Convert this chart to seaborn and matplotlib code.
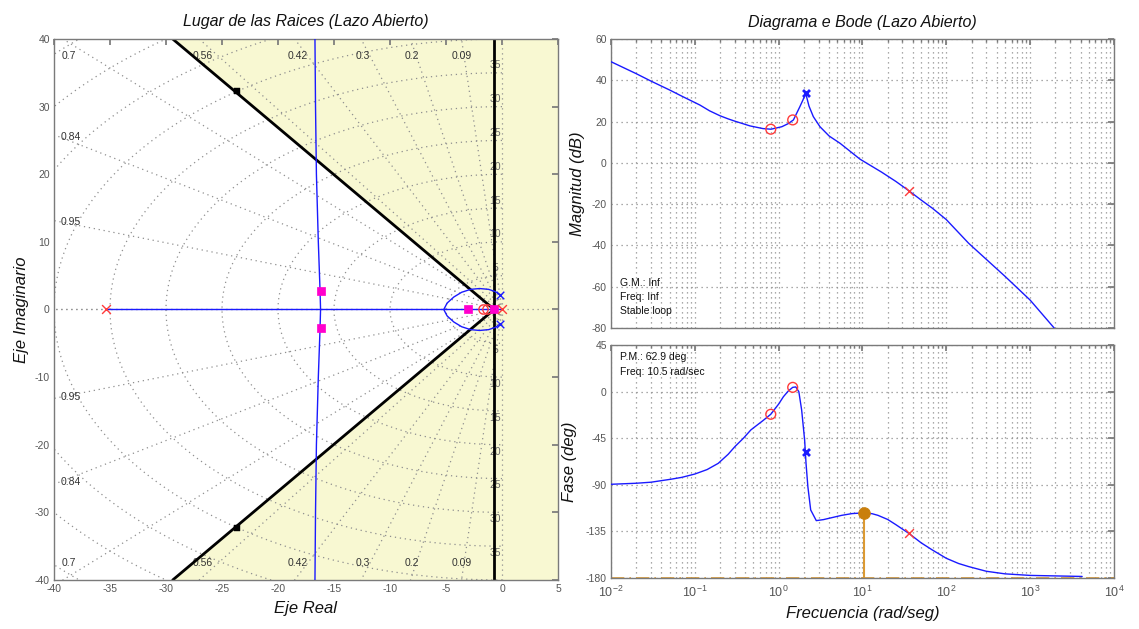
import numpy as np
import matplotlib
matplotlib.use("Agg")
import matplotlib.pyplot as plt
import seaborn as sns
from matplotlib.ticker import LogLocator, NullFormatter, MultipleLocator

sns.set_theme(style="white")
plt.rcParams["font.family"] = ["Liberation Sans", "DejaVu Sans"]
plt.rcParams["axes.unicode_minus"] = False

# ---------------- Root locus: grid values ----------------
damping_ratios = [0.09, 0.2, 0.3, 0.42, 0.56, 0.7, 0.84, 0.95]
natural_freqs = [5, 10, 15, 20, 25, 30, 35, 40, 45, 50, 55]
natural_freq_labels = [5, 10, 15, 20, 25, 30, 35]

# open-loop poles / zeros
plant_poles_re = [-35.4, 0.0]
plant_poles_im = [0.0, 0.0]
comp_poles_re = [-0.15, -0.15]
comp_poles_im = [2.1, -2.1]
zeros_re = [-1.65, -1.3]
zeros_im = [0.0, 0.0]
# closed-loop poles for the current gain
cl_poles_re = [-16.2, -16.2, -3.0, -0.67]
cl_poles_im = [2.75, -2.75, 0.0, 0.0]

# locus branches
real_branch_re = [-35.4, 0.0]
real_branch_im = [0.0, 0.0]
asym_branch_re = [-16.7, -16.65, -16.57, -16.4, -16.25, -16.2, -16.25, -16.4, -16.57, -16.65, -16.7]
asym_branch_im = [40, 30, 20, 10, 3, 0, -3, -10, -20, -30, -40]
loop_branch_re = [-0.15, -0.6, -1.2, -2.0, -2.8, -3.6, -4.3, -4.9, -5.2,
                  -4.9, -4.3, -3.6, -2.8, -2.0, -1.2, -0.6, -0.15]
loop_branch_im = [2.1, 2.65, 2.98, 3.1, 2.98, 2.55, 1.85, 0.95, 0.0,
                  -0.95, -1.85, -2.55, -2.98, -3.1, -2.98, -2.65, -2.1]

# design constraints (damping wedge + settling time)
wedge_re = [-29.4, -0.7, -29.4]
wedge_im = [40.0, 0.0, -40.0]
settling_re = -0.7
wedge_marks_re = [-23.7, -23.7]
wedge_marks_im = [32.3, -32.3]

# ---------------- Bode data ----------------
mag_w = [0.01, 0.02, 0.03, 0.05, 0.07, 0.115, 0.15, 0.2, 0.25, 0.3, 0.38, 0.455,
         0.65, 0.81, 1.09, 1.30, 1.50, 1.79, 1.95, 2.10, 2.30, 2.59, 3.11, 4.0,
         5.39, 9.33, 16.9, 25.0, 35.7, 50.0, 68.3, 100, 185, 502, 1000, 1933, 4170]
mag_db = [49.0, 43.2, 39.6, 35.3, 32.3, 28.0, 25.2, 22.8, 21.3, 20.2, 18.9, 17.9,
          16.6, 16.3, 17.5, 19.0, 20.8, 27.2, 30.5, 33.7, 27.5, 22.4, 17.5, 13.0,
          9.5, 1.8, -4.5, -9.0, -13.5, -18.0, -22.0, -27.5, -39.0, -55.0, -66.5,
          -80.0, -93.4]

phase_w = [0.01, 0.02, 0.03, 0.052, 0.07, 0.1, 0.14, 0.19, 0.25, 0.3, 0.38, 0.466,
           0.55, 0.65, 0.805, 1.0, 1.14, 1.3, 1.47, 1.6, 1.74, 1.88, 2.04, 2.12,
           2.23, 2.41, 2.81, 3.43, 5.64, 7.5, 10.5, 13.0, 15.3, 20.0, 25.0, 35.7,
           50.0, 68.3, 100, 140, 185, 300, 502, 1000, 4170]
phase_deg = [-89.5, -88.5, -87.5, -84.6, -82.8, -79.6, -75.3, -69.3, -60.5, -53.2,
             -45.0, -37.0, -32.5, -28.0, -21.9, -12.0, -4.9, 0.5, 4.1, 4.5, -0.1,
             -17.8, -46.7, -69.3, -91.8, -114.3, -124.6, -123.6, -119.5, -117.8,
             -117.1, -117.9, -119.5, -123.5, -128.5, -136.9, -146.0, -153.0, -161.0,
             -166.0, -169.0, -173.5, -176.0, -177.5, -178.5]

zero_w = [0.805, 1.47]
zero_mag = [16.3, 20.8]
zero_phase = [-21.9, 4.1]
comp_pole_w = [2.09]
comp_pole_mag = [33.7]
comp_pole_phase = [-58.0]
plant_pole_w = [35.7]
plant_pole_mag = [-13.5]
plant_pole_phase = [-136.9]

gain_margin = "Inf"
gain_margin_freq = "Inf"
phase_margin = 62.9
phase_margin_freq = 10.5

# ---------------- styling ----------------
GRID_C = "#8f8f8f"
GRID_LS = (0, (1, 3))
SPINE_C = "#7a7a7a"
TICK_C = "#555555"
YELLOW = "#F8F8D2"
BLUE = "#1a1aff"
RED = "#ff3b3b"
MAGENTA = "#ff00cc"
ORANGE = "#dc9a32"
ORANGE_DOT = "#c97f0c"

W, H = 1139, 629
fig = plt.figure(figsize=(W / 100, H / 100), dpi=100)
fig.patch.set_facecolor("white")
ax_rl = fig.add_axes([54 / W, 1 - 580 / H, 504 / W, 541 / H])
ax_mag = fig.add_axes([611 / W, 1 - 328 / H, 503 / W, 289 / H])
ax_ph = fig.add_axes([611 / W, 1 - 578 / H, 503 / W, 233 / H])


def style_axes(ax):
    ax.set_facecolor("white")
    for s in ax.spines.values():
        s.set_color(SPINE_C)
        s.set_linewidth(1.0)
    ax.tick_params(which="both", direction="in", top=True, right=True,
                   color=SPINE_C, labelcolor=TICK_C, labelsize=7.5, pad=3)
    ax.tick_params(which="major", length=4)
    ax.tick_params(which="minor", length=2.5)


# ================= Root locus =================
ax = ax_rl
style_axes(ax)
ax.set_xlim(-40, 5)
ax.set_ylim(-40, 40)
ax.xaxis.set_major_locator(MultipleLocator(5))
ax.yaxis.set_major_locator(MultipleLocator(10))

# shaded region outside the design constraints
poly_x = [wedge_re[0], 5, 5, wedge_re[2], wedge_re[1]]
poly_y = [wedge_im[0], 40, -40, wedge_im[2], wedge_im[1]]
ax.fill(poly_x, poly_y, color=YELLOW, zorder=0, lw=0)

# s-plane grid: damping rays and natural-frequency arcs
theta = np.linspace(np.pi / 2, 3 * np.pi / 2, 400)
for wn in natural_freqs:
    ax.plot(wn * np.cos(theta), wn * np.sin(theta), ls=GRID_LS, color=GRID_C, lw=0.9, zorder=1)
for z in [0.0] + damping_ratios + [1.0]:
    s = np.sqrt(1 - z ** 2)
    for sign in (1, -1):
        ax.plot([0, -100 * z], [0, sign * 100 * s], ls=GRID_LS, color=GRID_C, lw=0.9, zorder=1)
ax.plot([0, 5], [0, 0], ls=GRID_LS, color=GRID_C, lw=0.9, zorder=1)

for z in damping_ratios:
    s = np.sqrt(1 - z ** 2)
    x_top = -39.5 * z / s
    if x_top > -39.5:
        for sign in (1, -1):
            ax.text(x_top, sign * 37.5, f"{z:g}", ha="center", va="center",
                    fontsize=7.5, color="#333333", zorder=1.5)
    else:
        y_left = 39.5 * s / z
        for sign in (1, -1):
            ax.text(-38.5, sign * y_left, f"{z:g}", ha="center", va="center",
                    fontsize=7.5, color="#333333", zorder=1.5)
for wn in natural_freq_labels:
    ax.text(-0.6, wn + 1.1, f"{wn}", ha="center", va="center", fontsize=7.5,
            color="#666666", zorder=1.5)
    ax.text(-0.6, -wn - 1.0, f"{wn}", ha="center", va="center", fontsize=7.5,
            color="#666666", zorder=1.5)

# design constraint boundaries
sns.lineplot(x=wedge_re, y=wedge_im, sort=False, estimator=None, color="black",
             lw=2.0, ax=ax, zorder=2)
ax.axvline(settling_re, color="black", lw=2.0, zorder=2)
sns.scatterplot(x=wedge_marks_re, y=wedge_marks_im, marker="s", s=14, color="black",
                edgecolor="black", ax=ax, zorder=2.5)

# locus branches
for bx, by in [(real_branch_re, real_branch_im), (asym_branch_re, asym_branch_im),
               (loop_branch_re, loop_branch_im)]:
    sns.lineplot(x=bx, y=by, sort=False, estimator=None, color=BLUE, lw=1.0,
                 ax=ax, zorder=3)

# poles, zeros, closed-loop poles
sns.scatterplot(x=zeros_re, y=zeros_im, marker="o", s=45, color=RED, facecolor="none",
                edgecolor=RED, linewidth=1.0, ax=ax, zorder=4)
sns.scatterplot(x=cl_poles_re, y=cl_poles_im, marker="s", s=40, color=MAGENTA,
                edgecolor=MAGENTA, ax=ax, zorder=5)
sns.scatterplot(x=plant_poles_re, y=plant_poles_im, marker="x", s=40, color=RED,
                linewidth=1.0, ax=ax, zorder=5)
sns.scatterplot(x=comp_poles_re, y=comp_poles_im, marker="x", s=30, color=BLUE,
                linewidth=1.0, ax=ax, zorder=5)

ax.set_title("Lugar de las Raices (Lazo Abierto)", fontsize=11.5, style="italic",
             color="#111111", pad=9)
ax.set_xlabel("Eje Real", fontsize=12, style="italic", color="#111111", labelpad=5)
ax.set_ylabel("Eje Imaginario", fontsize=12, style="italic", color="#111111", labelpad=4)

# ================= Bode magnitude =================
for axb in (ax_mag, ax_ph):
    style_axes(axb)
    axb.set_xscale("log")
    axb.set_xlim(1e-2, 1e4)
    axb.xaxis.set_major_locator(LogLocator(base=10, numticks=10))
    axb.xaxis.set_minor_locator(LogLocator(base=10, subs=np.arange(2, 10), numticks=100))
    axb.grid(True, which="both", axis="x", ls=GRID_LS, color=GRID_C, lw=0.9)
    axb.grid(True, which="major", axis="y", ls=GRID_LS, color=GRID_C, lw=0.9)

ax = ax_mag
ax.set_ylim(-80, 60)
ax.yaxis.set_major_locator(MultipleLocator(20))
ax.xaxis.set_major_formatter(NullFormatter())
ax.xaxis.set_minor_formatter(NullFormatter())
sns.lineplot(x=mag_w, y=mag_db, sort=False, estimator=None, color=BLUE, lw=1.0,
             ax=ax, zorder=3)
sns.scatterplot(x=zero_w, y=zero_mag, marker="o", s=50, color=RED, facecolor="none",
                edgecolor=RED, linewidth=1.0, ax=ax, zorder=4)
sns.scatterplot(x=comp_pole_w, y=comp_pole_mag, marker="x", s=25, color=BLUE,
                linewidth=2.0, ax=ax, zorder=4)
sns.scatterplot(x=plant_pole_w, y=plant_pole_mag, marker="x", s=40, color=RED,
                linewidth=1.0, ax=ax, zorder=4)
ax.text(0.018, 0.156, f"G.M.: {gain_margin}", transform=ax.transAxes, fontsize=7.5,
        va="center", color="#111111")
ax.text(0.018, 0.107, f"Freq: {gain_margin_freq}", transform=ax.transAxes, fontsize=7.5,
        va="center", color="#111111")
ax.text(0.018, 0.058, "Stable loop", transform=ax.transAxes, fontsize=7.5,
        va="center", color="#111111")
ax.set_title("Diagrama e Bode (Lazo Abierto)", fontsize=11.5, style="italic",
             color="#111111", pad=9)
ax.set_ylabel("Magnitud (dB)", fontsize=12, style="italic", color="#111111", labelpad=5)

# ================= Bode phase =================
ax = ax_ph
ax.set_ylim(-180, 45)
ax.yaxis.set_major_locator(MultipleLocator(45))
ax.xaxis.set_minor_formatter(NullFormatter())
ax.tick_params(axis="x", which="major", labelsize=9, pad=5)
pm_phase = -180 + phase_margin
ax.axhline(-180, color=ORANGE, lw=1.2, ls=(0, (8, 3, 1, 3)), zorder=2.5)
sns.lineplot(x=[phase_margin_freq, phase_margin_freq], y=[-180, pm_phase], sort=False,
             estimator=None, color=ORANGE, lw=1.5, ax=ax, zorder=2.5)
sns.lineplot(x=phase_w, y=phase_deg, sort=False, estimator=None, color=BLUE, lw=1.0,
             ax=ax, zorder=3)
sns.scatterplot(x=[phase_margin_freq], y=[pm_phase], marker="o", s=70, color=ORANGE_DOT,
                edgecolor=ORANGE_DOT, ax=ax, zorder=4)
sns.scatterplot(x=zero_w, y=zero_phase, marker="o", s=50, color=RED, facecolor="none",
                edgecolor=RED, linewidth=1.0, ax=ax, zorder=4)
sns.scatterplot(x=comp_pole_w, y=comp_pole_phase, marker="x", s=25, color=BLUE,
                linewidth=2.0, ax=ax, zorder=4)
sns.scatterplot(x=plant_pole_w, y=plant_pole_phase, marker="x", s=40, color=RED,
                linewidth=1.0, ax=ax, zorder=4)
ax.text(0.018, 0.948, f"P.M.: {phase_margin} deg", transform=ax.transAxes, fontsize=7.5,
        va="center", color="#111111")
ax.text(0.018, 0.884, f"Freq: {phase_margin_freq} rad/sec", transform=ax.transAxes,
        fontsize=7.5, va="center", color="#111111")
ax.set_ylabel("Fase (deg)", fontsize=12, style="italic", color="#111111", labelpad=6)
ax.set_xlabel("Frecuencia (rad/seg)", fontsize=12, style="italic", color="#111111",
              labelpad=4)

fig.savefig("out.png", dpi=100, facecolor="white")
